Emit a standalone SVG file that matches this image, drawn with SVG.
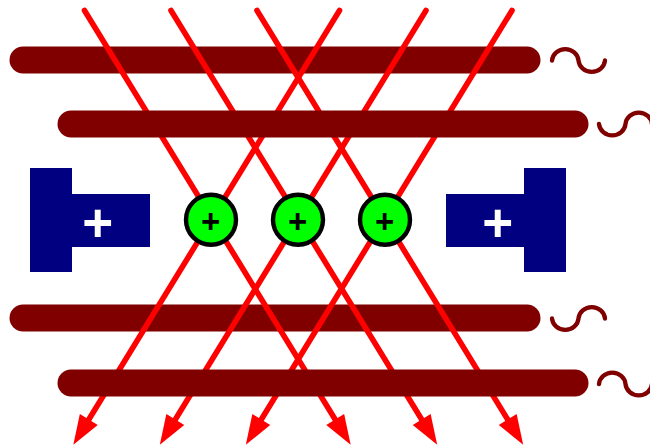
<svg xmlns="http://www.w3.org/2000/svg" width="650" height="447" viewBox="0 0 650 447">
<style>
.bar{stroke:#800000;stroke-width:27;stroke-linecap:round;fill:none}
.tilde{stroke:#800000;stroke-width:4.3;stroke-linecap:round;fill:none}
.ray{stroke:#ff0000;stroke-width:5.6;stroke-linecap:round;fill:none;marker-end:url(#head)}
.blue{fill:#000080}
.dot{fill:#00ff00;stroke:#000000;stroke-width:4.4}
.pw{font-family:"Liberation Sans",Arial,sans-serif;font-weight:bold;font-size:53px;fill:#ffffff;text-anchor:middle}
.pb{font-family:"Liberation Sans",Arial,sans-serif;font-weight:bold;font-size:33px;fill:#000000;text-anchor:middle}
</style>
<defs>
<marker id="head" markerUnits="userSpaceOnUse" markerWidth="32" markerHeight="24" refX="0" refY="12" orient="auto" overflow="visible">
<path d="M0,1.5 L29.6,12 L0,22.5 Z" fill="#ff0000"/>
</marker>
</defs>
<g id="plate-top-a"><path class="bar" d="M23,60H527"/><path class="tilde" d="M552,60.500A13.300,12.500 0 0 1 578.500,60.500A13.300,12.500 0 0 0 605,60.500"/></g>
<g id="plate-bottom-a"><path class="bar" d="M23,318H527"/><path class="tilde" d="M552,318.500A13.300,12.500 0 0 0 578.500,318.500A13.300,12.500 0 0 1 605,318.500"/></g>
<g id="connectors">
<path class="ray" d="M84.5,10.5L335.2,419.5"/>
<path class="ray" d="M171,10.5L421.7,419.5"/>
<path class="ray" d="M257,10.5L507.7,419.5"/>
<path class="ray" d="M339.5,10.5L88.8,419.5"/>
<path class="ray" d="M426,10.5L175.3,419.5"/>
<path class="ray" d="M512,10.5L261.3,419.5"/>
</g>
<g id="plate-top-b"><path class="bar" d="M71,124H575"/><path class="tilde" d="M599,124A13.300,12.500 0 0 0 625.500,124A13.300,12.500 0 0 1 652,124"/></g>
<g id="plate-bottom-b"><path class="bar" d="M71,383H575"/><path class="tilde" d="M599,384A13.300,12.500 0 0 1 625.500,384A13.300,12.500 0 0 0 652,384"/></g>
<g id="electrode-left"><path class="blue" d="M30,168H72V194H150V247H72V272H30Z"/><text class="pw" x="97.7" y="240.500">+</text></g>
<g id="electrode-right"><path class="blue" d="M566,168H524V194H446V247H524V272H566Z"/><text class="pw" x="497.7" y="240.500">+</text></g>
<g id="ion-1"><circle class="dot" cx="211" cy="219.700" r="25"/><text class="pb" x="210.7" y="232.500">+</text></g>
<g id="ion-2"><circle class="dot" cx="298" cy="219.700" r="25"/><text class="pb" x="297.7" y="232.500">+</text></g>
<g id="ion-3"><circle class="dot" cx="385" cy="219.700" r="25"/><text class="pb" x="384.7" y="232.500">+</text></g>
</svg>
